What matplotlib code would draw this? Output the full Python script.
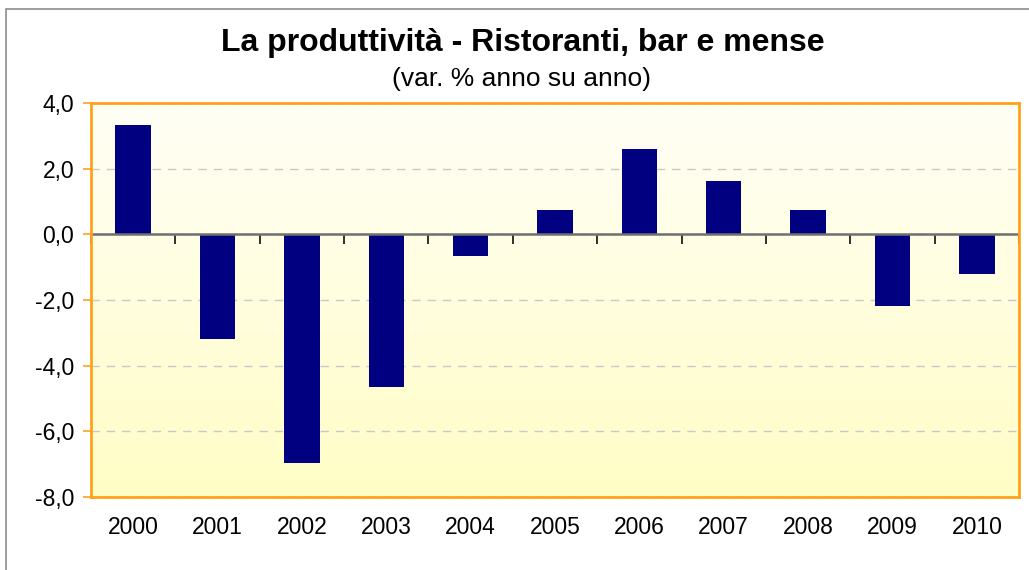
import matplotlib
matplotlib.use("Agg")
import matplotlib.pyplot as plt
import numpy as np
from matplotlib.patches import Rectangle
from matplotlib.ticker import FuncFormatter
from matplotlib.colors import LinearSegmentedColormap

years = ["2000", "2001", "2002", "2003", "2004", "2005", "2006", "2007", "2008", "2009", "2010"]
values = [3.32, -3.19, -6.96, -4.65, -0.66, 0.73, 2.59, 1.63, 0.73, -2.18, -1.21]
title = "La produttività - Ristoranti, bar e mense"
subtitle = "(var. % anno su anno)"
y_ticks = [4.0, 2.0, 0.0, -2.0, -4.0, -6.0, -8.0]

plt.rcParams['font.family'] = ['Liberation Sans', 'DejaVu Sans']

W, H = 1029, 570
fig = plt.figure(figsize=(W / 100, H / 100), dpi=100)
fig.patch.set_facecolor('white')

# outer chart frame (left/top visible)
fig.patches.append(Rectangle((6 / W, -0.1), 1.2, (H - 9) / H + 0.1, transform=fig.transFigure,
                             fill=False, edgecolor='#8c8c8c', linewidth=1.2))

left, right, top, bottom = 91, 1019, 103, 497
ax = fig.add_axes([left / W, (H - bottom) / H, (right - left) / W, (bottom - top) / H])

n = len(years)
x = np.arange(n)

# gradient background
grad = np.linspace(0, 1, 256).reshape(-1, 1)
cmap = LinearSegmentedColormap.from_list('bg', ['#FFFFF6', '#FFFDC6'])
ax.imshow(grad, aspect='auto', cmap=cmap, extent=(0, 1, 0, 1),
          transform=ax.transAxes, origin='upper', zorder=0)

ax.bar(x, values, width=0.42, color='#000080', zorder=3)
ax.set_xlim(-0.5, n - 0.5)
ax.set_ylim(-8, 4)

# grid
ax.set_yticks(y_ticks)
ax.yaxis.set_major_formatter(FuncFormatter(lambda v, p: f"{v:.1f}".replace('.', ',')))
ax.grid(axis='y', color='#C8C8C8', linestyle=(0, (6, 5)), linewidth=1, zorder=1)
ax.set_axisbelow(True)

# zero line
ax.axhline(0, color='#707070', linewidth=1.8, zorder=4)

# spines
for s in ax.spines.values():
    s.set_color('#FFA21A')
    s.set_linewidth(2)
    s.set_zorder(5)

ax.tick_params(axis='y', colors='#FFA21A', labelcolor='black', length=6, width=1.2,
               labelsize=16.5, pad=6)
ax.set_xticks(x)
ax.set_xticklabels(years)
ax.tick_params(axis='x', length=0, labelsize=16.5, pad=14)

# category boundary ticks on the zero line
sec = ax.secondary_xaxis(0, transform=ax.transData)
sec.set_xticks(np.arange(n + 1) - 0.5)
sec.set_xticklabels([])
sec.tick_params(axis='x', direction='out', length=7, width=1.3, color='#202020')
sec.spines['bottom'].set_visible(False)

fig.text(523 / W, 1 - 43 / H, title, ha='center', va='center', fontsize=23, fontweight='bold')
fig.text(521 / W, 1 - 79 / H, subtitle, ha='center', va='center', fontsize=19)

fig.savefig('out.png', dpi=100)
